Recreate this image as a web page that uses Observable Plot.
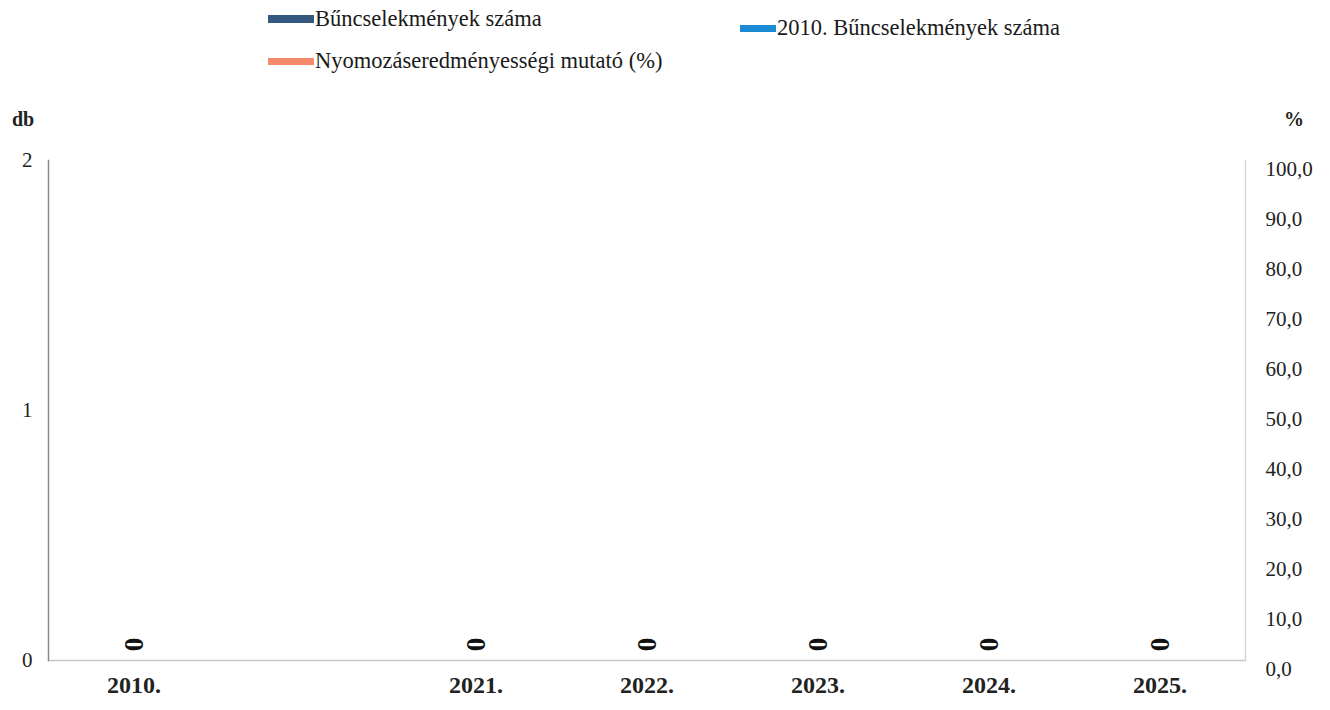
<!DOCTYPE html>
<html>
<head>
<meta charset="utf-8">
<script src="https://cdn.jsdelivr.net/npm/d3@7"></script>
<script src="https://cdn.jsdelivr.net/npm/@observablehq/plot@0.6"></script>
<style>
  html, body { margin: 0; padding: 0; background: #fff; }
  #wrap { position: relative; width: 1330px; height: 710px; font-family: "Liberation Serif", "DejaVu Serif", serif; }
  .leg { position: absolute; display: flex; align-items: center; font-size: 22.5px; color: #1a1a1a; white-space: nowrap; }
  .sw { display: inline-block; margin-right: 1px; }
  .unit { position: absolute; font-size: 20px; font-weight: bold; color: #222; }
</style>
</head>
<body>
<div id="wrap"></div>
<script>
// ---- data ----
const categories = ["2010.", " ", "2021.", "2022.", "2023.", "2024.", "2025."];
const crimeYears = ["2010.", "2021.", "2022.", "2023.", "2024.", "2025."];
const crimeCounts = [0, 0, 0, 0, 0, 0];
const dbTicks = [0, 1, 2];
const pctTicks = [0, 10, 20, 30, 40, 50, 60, 70, 80, 90, 100];
const seriesNames = ["Bűncselekmények száma", "2010. Bűncselekmények száma", "Nyomozáseredményességi mutató (%)"];
const seriesColors = ["#35587f", "#1a8ad4", "#f4896b"];

const rows = crimeYears.map((c, i) => ({cat: c, v: crimeCounts[i]}));
const pctToDb = p => p / 50; // right axis 0–100 % maps onto left 0–2 db
const fmtPct = d3.format(".1f");

const chart = Plot.plot({
  width: 1330,
  height: 710,
  marginLeft: 48,
  marginRight: 85,
  marginTop: 160,
  marginBottom: 50,
  style: {fontFamily: "Liberation Serif, serif", background: "transparent"},
  x: {type: "band", domain: categories, padding: 0, axis: null},
  y: {domain: [0, 2], axis: null},
  marks: [
    Plot.frame({anchor: "bottom", stroke: "#c8c8c8", strokeWidth: 1.5}),
    Plot.frame({anchor: "left", stroke: "#8a8a8a", strokeWidth: 1.5}),
    Plot.frame({anchor: "right", stroke: "#d0d0d0", strokeWidth: 1.2}),
    Plot.barY(rows, {x: "cat", y: "v", fill: seriesColors[0], inset: 40}),
    // left axis labels
    Plot.text(dbTicks, {y: d => d, frameAnchor: "left", dx: -16, textAnchor: "end", text: d => String(d), fontSize: 21, fill: "#222"}),
    // right axis labels
    Plot.text(pctTicks, {y: pctToDb, frameAnchor: "right", dx: 20, dy: 9, textAnchor: "start", text: d => fmtPct(d).replace(".", ","), fontSize: 21, fill: "#222"}),
    // category labels
    Plot.text(categories, {x: d => d, frameAnchor: "bottom", dy: 32, text: d => d.trim(), fontSize: 24, fontWeight: "bold", fill: "#222"}),
    // data labels (rotated zeros)
    Plot.text(rows, {x: "cat", y: "v", dy: -16, text: d => String(d.v), rotate: 90, fontSize: 27, fontWeight: "bold", fill: "#111"})
  ]
});

const wrap = document.getElementById("wrap");
chart.style.position = "absolute";
chart.style.left = "0px";
chart.style.top = "0px";
wrap.appendChild(chart);

const legendItems = [
  {name: seriesNames[0], color: seriesColors[0], left: 268, top: 6, h: 8, w: 46},
  {name: seriesNames[1], color: seriesColors[1], left: 740, top: 15, h: 7, w: 36},
  {name: seriesNames[2], color: seriesColors[2], left: 268, top: 48, h: 7, w: 46}
];
for (const it of legendItems) {
  const d = document.createElement("div");
  d.className = "leg";
  d.style.left = it.left + "px";
  d.style.top = it.top + "px";
  const s = document.createElement("span");
  s.className = "sw";
  s.style.height = it.h + "px";
  s.style.width = it.w + "px";
  s.style.background = it.color;
  d.appendChild(s);
  const t = document.createElement("span");
  t.textContent = it.name;
  d.appendChild(t);
  wrap.appendChild(d);
}
const u1 = document.createElement("div");
u1.className = "unit"; u1.textContent = "db"; u1.style.left = "12px"; u1.style.top = "108px";
wrap.appendChild(u1);
const u2 = document.createElement("div");
u2.className = "unit"; u2.textContent = "%"; u2.style.left = "1284px"; u2.style.top = "108px";
wrap.appendChild(u2);
</script>
</body>
</html>
